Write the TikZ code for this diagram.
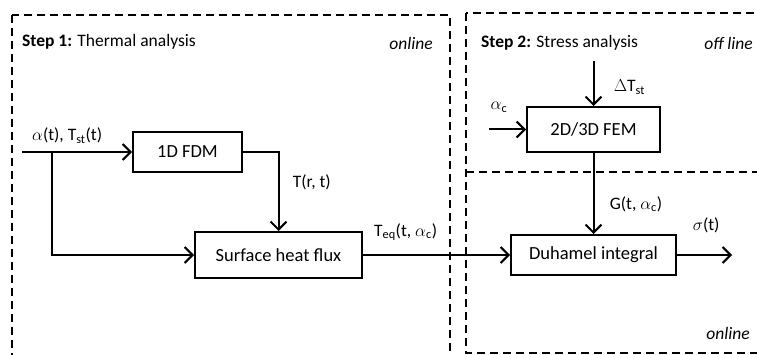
\documentclass[tikz,border=0pt]{standalone}
\usepackage{fontspec}
\setmainfont{Carlito}
\usepackage{tikz}
\usetikzlibrary{arrows.meta, positioning}

\begin{document}
\begin{tikzpicture}[
    x=1pt, y=-1pt,
    node distance=20pt and 20pt,
    every node/.style={align=center, font=\fontsize{17.5}{20}\selectfont},
    block/.style={rectangle, draw, line width=2pt, inner sep=0pt, font=\fontsize{18.5}{20}\selectfont},
    title/.style={inner sep=0pt},
    region/.style={draw, line width=2.6pt, dash pattern=on 8pt off 5pt},
    arrow/.style={-{Straight Barb[length=8pt, width=16pt]}, line width=2pt},
    flow/.style={line width=2pt}
]
\useasboundingbox (0,0) rectangle (757,355);
\clip (0,0) rectangle (757,355);

% Regions
\draw[region] (12,15) rectangle (450,380);
\draw[region] (466,13) rectangle (790,353);
\draw[region] (466,172) -- (790,172);

% Titles
\node[title, anchor=west] (step1) at (22,42) {\textbf{Step 1:} Thermal analysis};
\node[title, anchor=east] (online1) at (433,43) {\textit{online}};
\node[title, anchor=west] (step2) at (481,43) {\textbf{Step 2:} Stress analysis};
\node[title, anchor=east] (offline) at (753,43) {\textit{off line}};
\node[title, anchor=east] (online2) at (750,333) {\textit{online}};

% Nodes
\node[block, minimum width=109pt, minimum height=40pt] (fdm) at (187.5,152) {1D FDM};
\node[block, minimum width=167pt, minimum height=46pt] (flux) at (278.5,255) {Surface heat flux};
\node[block, minimum width=133pt, minimum height=45pt] (fem) at (593.5,129.5) {2D/3D FEM};
\node[block, minimum width=165pt, minimum height=40pt, below=81pt of fem] (duh) {Duhamel integral};

\coordinate (in) at (22,152);
\coordinate (split) at (52,152);
\coordinate[left=37pt of fem.west] (alphac);
\coordinate[above=45pt of fem.north] (dT);
\coordinate[right=55pt of duh.east] (out);

% Connections
\draw[arrow] (in) -- node[above, pos=0.41, yshift=4pt] {$\alpha$(t), T\textsubscript{st}(t)} (fdm);
\draw[arrow] (split) |- (flux.west);
\draw[arrow] (fdm.east) -| node[right, pos=0.69, xshift=10pt] {T(r, t)} (flux.north);
\draw[arrow] (flux) -- node[above, pos=0.29, yshift=10pt] {T\textsubscript{eq}(t, $\alpha$\textsubscript{c})} (duh);
\draw[arrow] (dT) -- node[right, pos=0.58, xshift=16pt] {$\Delta$T\textsubscript{st}} (fem);
\draw[arrow] (alphac) -- node[above, pos=0.27, yshift=13pt] {$\alpha$\textsubscript{c}} (fem);
\draw[arrow] (fem) -- node[right, pos=0.63, xshift=12pt] {G(t, $\alpha$\textsubscript{c})} (duh);
\draw[arrow] (duh) -- node[above, pos=0.53, yshift=18pt] {$\sigma$(t)} (out);

\end{tikzpicture}
\end{document}
